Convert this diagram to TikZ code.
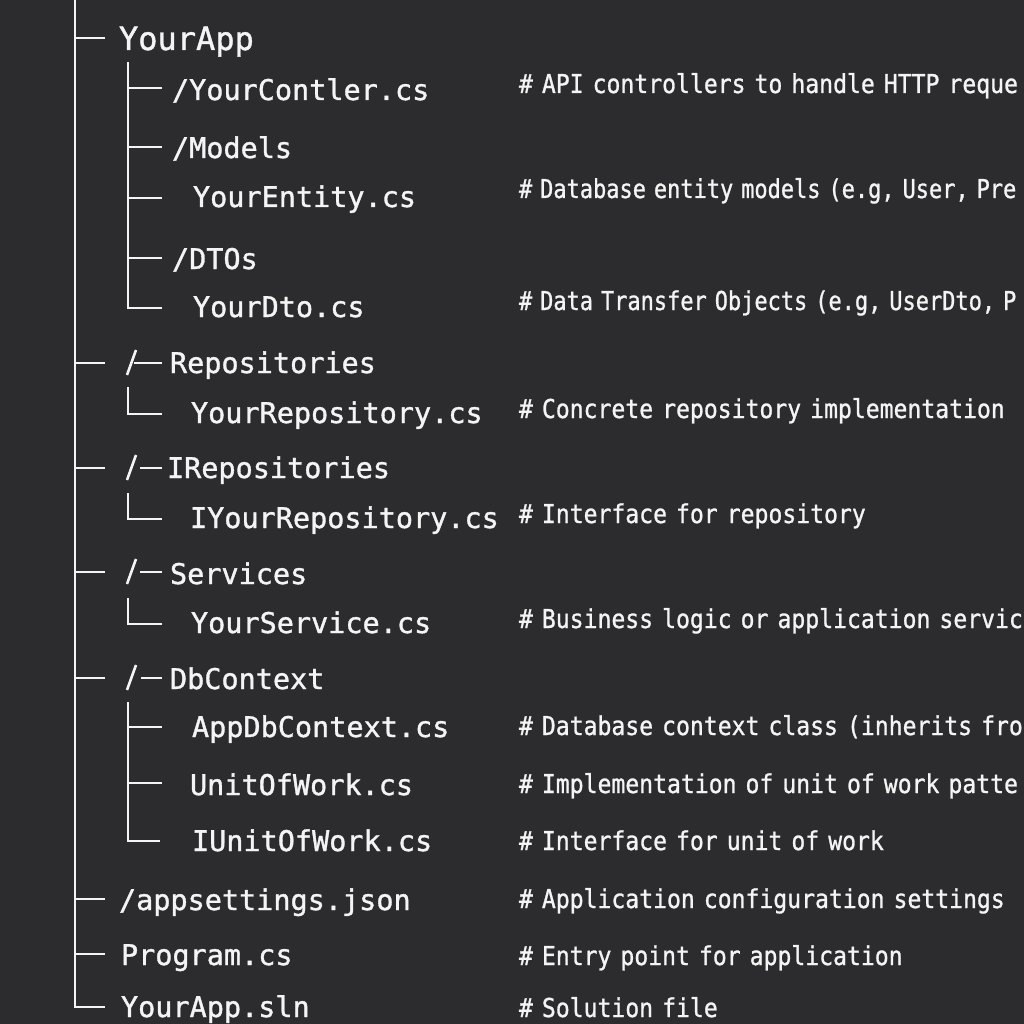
\documentclass[tikz,border=0pt]{standalone}
\usepackage{fontspec}
\newfontfamily\treefont[FakeBold=1.2]{DejaVu Sans Mono}
\newfontfamily\cmtfont[FakeStretch=0.888,WordSpace=0.65,FakeBold=1.0]{DejaVu Sans Mono}
\newfontfamily\cmtnarrow[FakeStretch=0.845,WordSpace=0.6,FakeBold=1.0]{DejaVu Sans Mono}
\definecolor{bg}{HTML}{2C2C2E}
\definecolor{fg}{HTML}{F4F4F4}
\begin{document}
\begin{tikzpicture}[x=1pt,y=-1pt,
  item/.style={anchor=base west, inner sep=0pt, outer sep=0pt, text=fg,
    font=\treefont\fontsize{28.5}{30}\selectfont},
  rootitem/.style={item, font=\treefont\fontsize{32}{34}\selectfont},
  cmt/.style={anchor=base west, inner sep=0pt, outer sep=0pt, text=fg,
    font=\cmtfont\fontsize{26}{28}\selectfont},
  cmtn/.style={cmt, font=\cmtnarrow\fontsize{26}{28}\selectfont},
  branch/.style={draw=fg, line width=2.8pt, line cap=butt, line join=miter}]
\fill[bg] (0,0) rectangle (1024,1024);
\useasboundingbox (0,0) rectangle (1024,1024);

% ---------- text nodes ----------
\node[rootitem] (yourapp) at (119,50) {YourApp};
\node[item] (ctrl)   at (172,100) {/YourContler.cs};
\node[item] (models) at (172,158) {/Models};
\node[item] (entity) at (193,207) {YourEntity.cs};
\node[item] (dtos)   at (172,269) {/DTOs};
\node[item] (dto)    at (193,317) {YourDto.cs};
\node[item] (repos)  at (170,373) {Repositories};
\node[item] (repo)   at (191,423) {YourRepository.cs};
\node[item] (irepos) at (167,478) {IRepositories};
\node[item] (irepo)  at (190,528) {IYourRepository.cs};
\node[item] (servs)  at (170,584) {Services};
\node[item] (serv)   at (191,633) {YourService.cs};
\node[item] (dbctx)  at (170,689) {DbContext};
\node[item] (appdb)  at (192,737) {AppDbContext.cs};
\node[item] (uow)    at (190,795) {UnitOfWork.cs};
\node[item] (iuow)   at (192,851) {IUnitOfWork.cs};
\node[item] (appset) at (119,910) {/appsettings.json};
\node[item] (prog)   at (121,965) {Program.cs};
\node[item] (sln)    at (121,1017) {YourApp.sln};

% ---------- comments ----------
\node[cmt]  (c1)  at (519,93)   {\# API controllers to handle HTTP reque};
\node[cmtn] (c2)  at (519,198)  {\# Database entity models (e.g, User, Pre};
\node[cmtn] (c3)  at (519,310)  {\# Data Transfer Objects (e.g, UserDto, P};
\node[cmt]  (c4)  at (519,418)  {\# Concrete repository implementation};
\node[cmt]  (c5)  at (519,523)  {\# Interface for repository};
\node[cmt]  (c6)  at (519,628)  {\# Business logic or application servic};
\node[cmt]  (c7)  at (519,735)  {\# Database context class (inherits fro};
\node[cmt]  (c8)  at (519,793)  {\# Implementation of unit of work patte};
\node[cmt]  (c9)  at (519,850)  {\# Interface for unit of work};
\node[cmt]  (c10) at (519,908)  {\# Application configuration settings};
\node[cmt]  (c11) at (519,965)  {\# Entry point for application};
\node[cmt]  (c12) at (519,1017) {\# Solution file};

% ---------- trunk ----------
\coordinate (trunktop) at (75,0);
\coordinate (trunkbot) at (75,1007);
\coordinate (tSlnEnd)  at (105,1007);
\draw[branch] (trunktop) -- (trunkbot) -- (tSlnEnd);
\foreach \y/\n in {38/App,363/Repos,468/IRepos,572/Servs,678/Db,899/Set,954/Prog}{
  \coordinate (t\n a) at (75,\y);
  \coordinate (t\n b) at (105,\y);
  \draw[branch] (t\n a) -- (t\n b);
}

% ---------- YourApp subtree ----------
\coordinate (aTop) at (128,62);
\coordinate (aBot) at (128,308);
\coordinate (aBotEnd) at (162,308);
\draw[branch] (aTop) -- (aBot) -- (aBotEnd);
\foreach \y/\n in {88/Ctrl,147/Mod,198/Ent,258/Dtos}{
  \coordinate (a\n a) at (128,\y);
  \coordinate (a\n b) at (162,\y);
  \draw[branch] (a\n a) -- (a\n b);
}

% ---------- "/-" markers ----------
\foreach \y/\g/\n in {363/134/Repos,468/140/IRepos,572/140/Servs,678/141/Db}{
  \coordinate (s\n a) at (127,\y+12);
  \coordinate (s\n b) at (136,\y-13);
  \coordinate (d\n a) at (\g,\y);
  \coordinate (d\n b) at (162,\y);
  \draw[branch, line width=2.6pt] (s\n a) -- (s\n b);
  \draw[branch] (d\n a) -- (d\n b);
}

% ---------- single-child corners ----------
\foreach \t/\b/\n in {387/414/Repo,493/519/IRepo,598/624/Serv}{
  \coordinate (k\n a) at (128,\t);
  \coordinate (k\n b) at (128,\b);
  \coordinate (k\n c) at (162,\b);
  \draw[branch] (k\n a) -- (k\n b) -- (k\n c);
}

% ---------- DbContext subtree ----------
\coordinate (dTop) at (128,702);
\coordinate (dBot) at (128,841);
\coordinate (dBotEnd) at (160,841);
\draw[branch] (dTop) -- (dBot) -- (dBotEnd);
\foreach \y/\n in {727/App,783/Uow}{
  \coordinate (dd\n a) at (128,\y);
  \coordinate (dd\n b) at (162,\y);
  \draw[branch] (dd\n a) -- (dd\n b);
}
\end{tikzpicture}
\end{document}
